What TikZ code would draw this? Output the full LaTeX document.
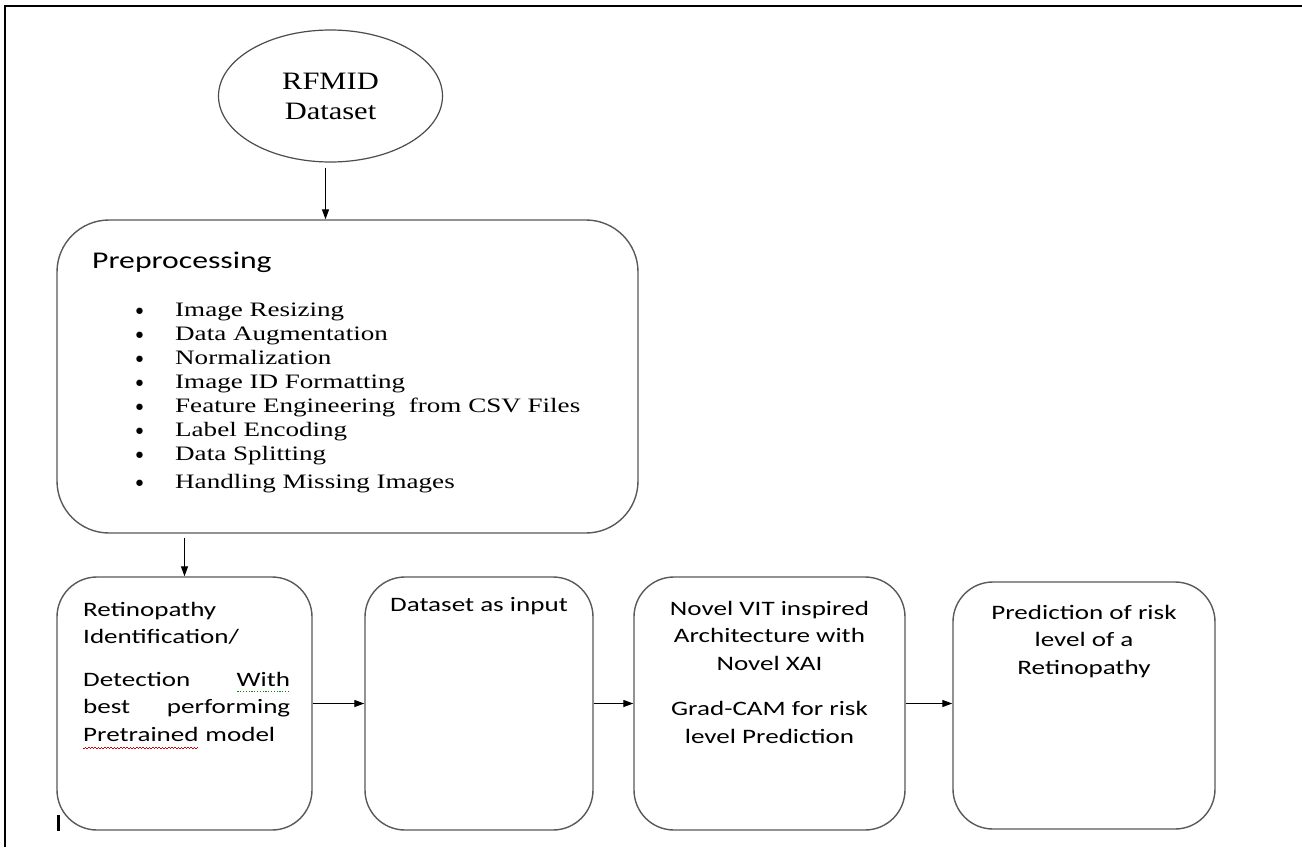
\documentclass[tikz,border=0pt]{standalone}
\usepackage{fontspec}
\usetikzlibrary{arrows.meta,shapes.geometric}
\newfontfamily\sansf{Carlito}[FakeStretch=1.32]
\newfontfamily\seriff{Liberation Serif}[FakeStretch=1.32]
\newfontfamily\titleserif{Liberation Serif}[FakeStretch=1.22]
\newfontfamily\djv{DejaVu Sans}
\newsavebox\mywordbox
\newcommand\markunder[3]{% #1 colour, #2 mark box, #3 word
  \leavevmode\sbox\mywordbox{#3}%
  \rlap{\textcolor{#1}{\hbox to \wd\mywordbox{\leaders\hbox{#2}\hfill}}}\usebox\mywordbox}
\newcommand\redwave[1]{\markunder{red!80!black}{\rule[-7pt]{1.6pt}{0.9pt}\rule[-6pt]{1.6pt}{0.9pt}}{#1}}
\newcommand\greendots[1]{\markunder{green!55!black}{\kern0.8pt\rule[-5.5pt]{1.2pt}{1.2pt}\kern0.8pt}{#1}}
\newcommand\bul{\makebox[42pt][l]{\raisebox{-3pt}{\djv\fontsize{22}{24}\selectfont •}}}
\begin{document}
\begin{tikzpicture}[x=1pt,y=-1pt,
  frameline/.style={line width=2.2pt, black},
  boxstyle/.style={draw=black!65, line width=1.4pt, rounded corners=40pt, inner sep=0pt, minimum height=253pt},
  arr/.style={-{Triangle[length=10pt,width=7pt]}, line width=1.2pt, black},
  sanstxt/.style={inner sep=0pt, font=\sansf\fontsize{20.5}{27.5}\selectfont},
  listtxt/.style={inner sep=0pt, align=left, font=\seriff\fontsize{20.5}{24}\selectfont}
]
\useasboundingbox (0,0) rectangle (1302,847);
\fill[white] (0,0) rectangle (1302,847);

% outer frame (top and left)
\draw[frameline] (1302,6) -- (5,6) -- (5,847);

% RFMID ellipse
\node[ellipse, draw=black!70, line width=1.2pt, minimum width=224pt, minimum height=132pt,
      inner sep=0pt, align=center, font=\titleserif\fontsize{25}{30}\selectfont] (rf) at (330.5,96) {RFMID\\Dataset};

% Preprocessing box
\node[draw=black!65, line width=1.4pt, rounded corners=52pt, minimum width=581pt, minimum height=313pt, inner sep=0pt]
  (pre) at (347.5,376.5) {};
\node[anchor=west, inner sep=0pt, font=\sansf\fontsize{24}{28}\selectfont] (ptitle) at (92,262) {Preprocessing};
\node[listtxt, anchor=north west] (plist) at (133,303) {%
\bul Image Resizing\\
\bul Data Augmentation\\
\bul Normalization\\
\bul Image ID Formatting\\
\bul Feature Engineering\ \ from CSV Files\\
\bul Label Encoding\\
\bul Data Splitting\\[4pt]
\bul Handling Missing Images};

% bottom row boxes
\node[boxstyle, minimum width=255pt] (b1) at (184.5,703.5) {};
\node[boxstyle, minimum width=228pt] (b2) at (479,703.5) {};
\node[boxstyle, minimum width=271pt] (b3) at (769.5,703.5) {};
\node[boxstyle, minimum width=262pt, minimum height=247pt] (b4) at (1084,705.5) {};

% texts in bottom boxes
\node[sanstxt, anchor=north west, text width=207pt, align=left] (t1) at (83,602) {%
Retinopathy\\
Identification/\\[15pt]
Detection\hfill\greendots{With}\\
best\hfill performing\\
\redwave{Pretrained} model};
\node[sanstxt, anchor=base] (t2) at (479,611.5) {Dataset as input};
\node[sanstxt, anchor=north, align=center] (t3) at (769.5,601) {%
Novel VIT inspired\\
Architecture with\\
Novel XAI\\[18pt]
Grad-CAM for risk\\
level Prediction};
\node[sanstxt, anchor=north, align=center] (t4) at (1084,605) {%
Prediction of risk\\
level of a\\
Retinopathy};

% small cursor mark
\draw[line width=3pt, black] (58,815) -- (58,831);

% connectors
\draw[arr, shorten <=5pt] ([xshift=-5pt]rf.south) -- ([xshift=-5pt]rf.south |- pre.north);
\draw[arr, shorten <=4pt] (b1.north |- pre.south) -- (b1.north);
\draw[arr] (b1.east) -- (b2.west);
\draw[arr] (b2.east) -- (b3.west);
\draw[arr] (b3.east) -- (b4.west |- b3.east);
\end{tikzpicture}
\end{document}
